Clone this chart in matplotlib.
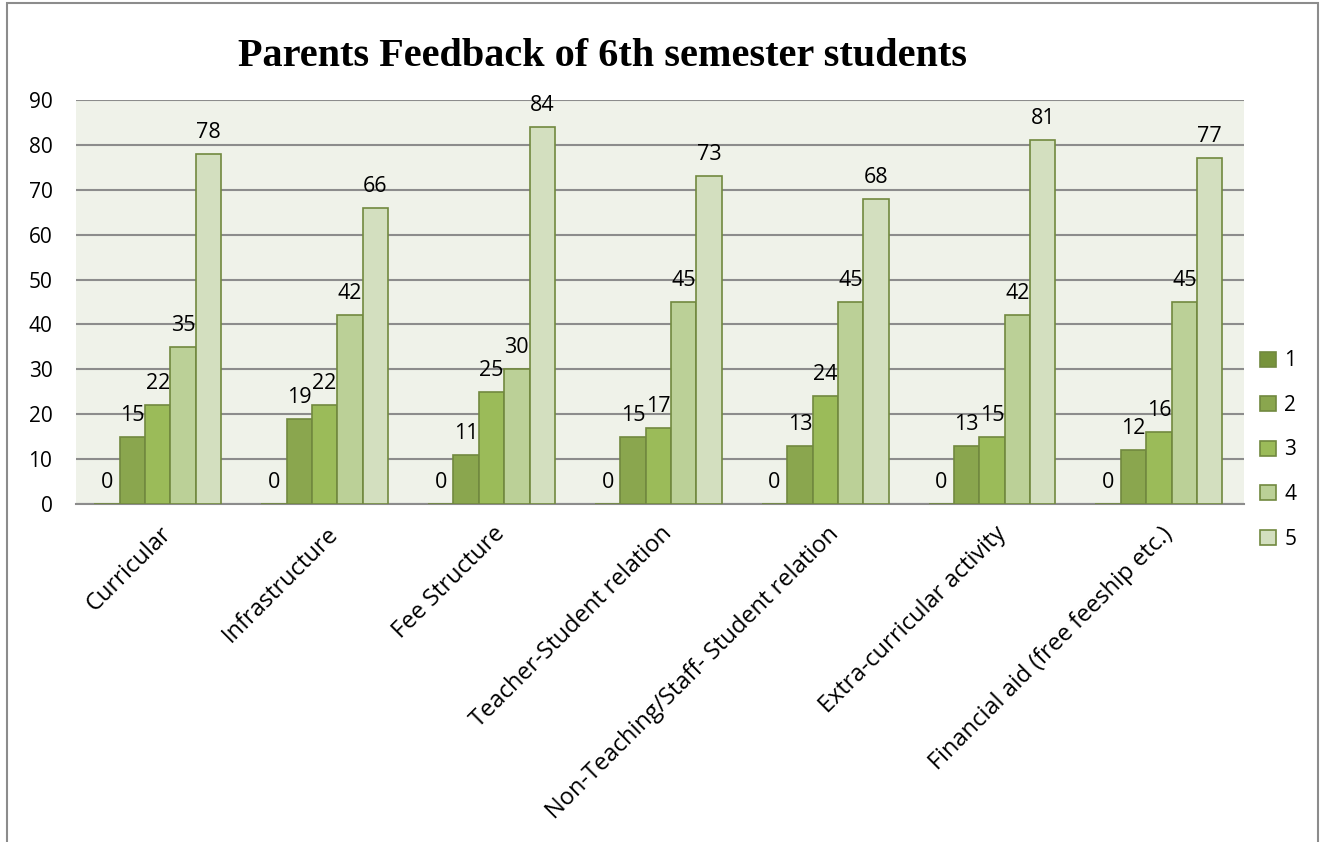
import matplotlib.pyplot as plt
import numpy as np
from matplotlib.patches import Rectangle

categories = ["Curricular", "Infrastructure", "Fee Structure",
              "Teacher-Student relation", "Non-Teaching/Staff- Student relation",
              "Extra-curricular activity", "Financial aid (free feeship etc.)"]
rating_1 = [0, 0, 0, 0, 0, 0, 0]
rating_2 = [15, 19, 11, 15, 13, 13, 12]
rating_3 = [22, 22, 25, 17, 24, 15, 16]
rating_4 = [35, 42, 30, 45, 45, 42, 45]
rating_5 = [78, 66, 84, 73, 68, 81, 77]
series_names = ["1", "2", "3", "4", "5"]

colors = ["#77933c", "#8aa64e", "#9bbb59", "#bbd097", "#d3dfbf"]
edge = "#71893f"
font = "Open Sans"

fig = plt.figure(figsize=(13.25, 8.42), dpi=100)
ax = fig.add_axes([76/1325, 1-504/842, (1244-76)/1325, (504-100)/842])
ax.set_facecolor("#eff2e9")

# outer chart frame
fig.patches.append(Rectangle((7/1325, -0.05), (1318-7)/1325, 1.05-3/842,
                             transform=fig.transFigure, fill=False,
                             edgecolor="#8c8c8c", linewidth=1.5))

x = np.arange(len(categories))
w = 0.152
series = [rating_1, rating_2, rating_3, rating_4, rating_5]
for k, vals in enumerate(series):
    bars = ax.bar(x + (k-2)*w - 0.01, vals, w, color=colors[k], edgecolor=edge,
                  linewidth=1.2, label=series_names[k], zorder=3)
    for b, v in zip(bars, vals):
        ax.annotate(str(v), (b.get_x() + b.get_width()/2, v),
                    xytext=(0, 8), textcoords="offset points",
                    ha="center", va="bottom", fontsize=15.5, family=font)

ax.set_xlim(-0.5, len(categories)-0.5)
ax.set_ylim(0, 90)
ax.set_yticks(range(0, 91, 10))
ax.yaxis.grid(True, color="#8c8c8c", linewidth=1.5, zorder=0)
ax.set_axisbelow(True)
for s in ["top", "right", "left"]:
    ax.spines[s].set_visible(False)
ax.spines["bottom"].set_color("#8c8c8c")
ax.spines["bottom"].set_linewidth(1.5)
ax.tick_params(axis="both", length=0, labelsize=15)
ax.tick_params(axis="y", pad=17)
for lbl in ax.get_yticklabels():
    lbl.set_family(font)

ax.set_xticks(x)
ax.set_xticklabels(categories, rotation=45, ha="right", va="top",
                   rotation_mode="anchor", family=font, fontsize=17)
ax.tick_params(axis="x", pad=13)

fig.text(603/1325, 1-57/842, "Parents Feedback of 6th semester students",
         ha="center", va="center", fontsize=29, fontweight="bold",
         family="Liberation Serif")

ax.legend(loc="center left", bbox_to_anchor=(1250/1325, 1-450/842),
          bbox_transform=fig.transFigure, frameon=False,
          prop={"family": font, "size": 15}, handlelength=0.75,
          handleheight=0.75, handletextpad=0.4, labelspacing=1.13, borderpad=0)

fig.savefig("out.png", dpi=100)
